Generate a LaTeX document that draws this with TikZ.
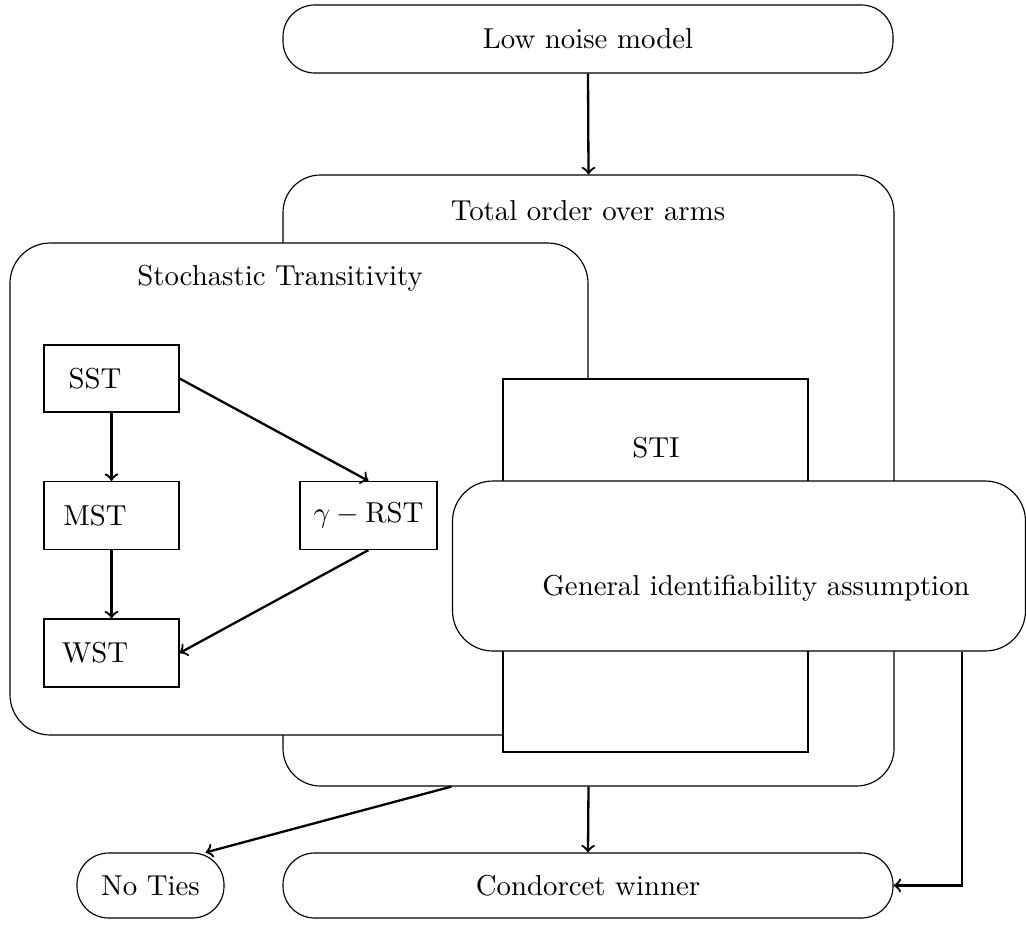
\documentclass[tikz,border=0pt]{standalone}
\usetikzlibrary{calc}
\def\px{0.347pt}
\begin{document}
\begin{tikzpicture}[x=0.347pt,y=-0.347pt,
  box/.style={draw, fill=white, inner sep=0pt, line width=0.4pt},
  pill/.style={box, rounded corners=11pt},
  arr/.style={->, thick},
]
\useasboundingbox (0,0) rectangle (1026,924);
% top
\node[pill, minimum width=610*\px, minimum height=68*\px] (low) at (588,39) {Low noise model};
% total order
\node[box, rounded corners=13pt, minimum width=611*\px, minimum height=611*\px] (tot) at (588.5,480.5) {};
\node (tottitle) at (588,211) {Total order over arms};
% stochastic transitivity
\node[box, rounded corners=14pt, minimum width=578*\px, minimum height=492*\px] (st) at (299,489) {};
\node (sttitle) at (280,278) {Stochastic Transitivity};
\node[box, minimum width=135*\px, minimum height=67*\px] (sst) at (111.5,378.5) {};
\node (ssttext) at (95,379) {SST};
\node[box, minimum width=135*\px, minimum height=68*\px] (mst) at (111.5,515.5) {};
\node (msttext) at (95,516) {MST};
\node[box, minimum width=135*\px, minimum height=68*\px] (wst) at (111.5,653) {};
\node (wsttext) at (95,653) {WST};
\node[box, minimum width=137*\px, minimum height=68*\px] (rst) at (368.5,515.5) {$\gamma-\mathrm{RST}$};
% STI
\node[box, minimum width=305*\px, minimum height=373*\px] (sti) at (655.5,565.5) {};
\node (stitext) at (656,448) {STI};
% GIA
\node[box, rounded corners=14pt, minimum width=573*\px, minimum height=170*\px] (gia) at (739,566) {};
\node (giatext) at (756,588) {General identifiability assumption};
% bottom
\node[pill, minimum width=147*\px, minimum height=65*\px] (noties) at (150.5,885.5) {No Ties};
\node[pill, minimum width=610*\px, minimum height=65*\px] (cond) at (588,885.5) {Condorcet winner};
% arrows
\draw[arr] (low.south) -- (tot.north);
\draw[arr] (sst.south) -- (mst.north);
\draw[arr] (mst.south) -- (wst.north);
\draw[arr] (sst.east) -- (rst.north);
\draw[arr] (rst.south) -- (wst.east);
\draw[arr] (tot.south) -- (cond.north);
\draw[arr] ($(tot.south west)+(169,0)$) -- (noties.31);
\draw[arr] ($(gia.south west)+(510,0)$) |- (cond.east);
\end{tikzpicture}
\end{document}
